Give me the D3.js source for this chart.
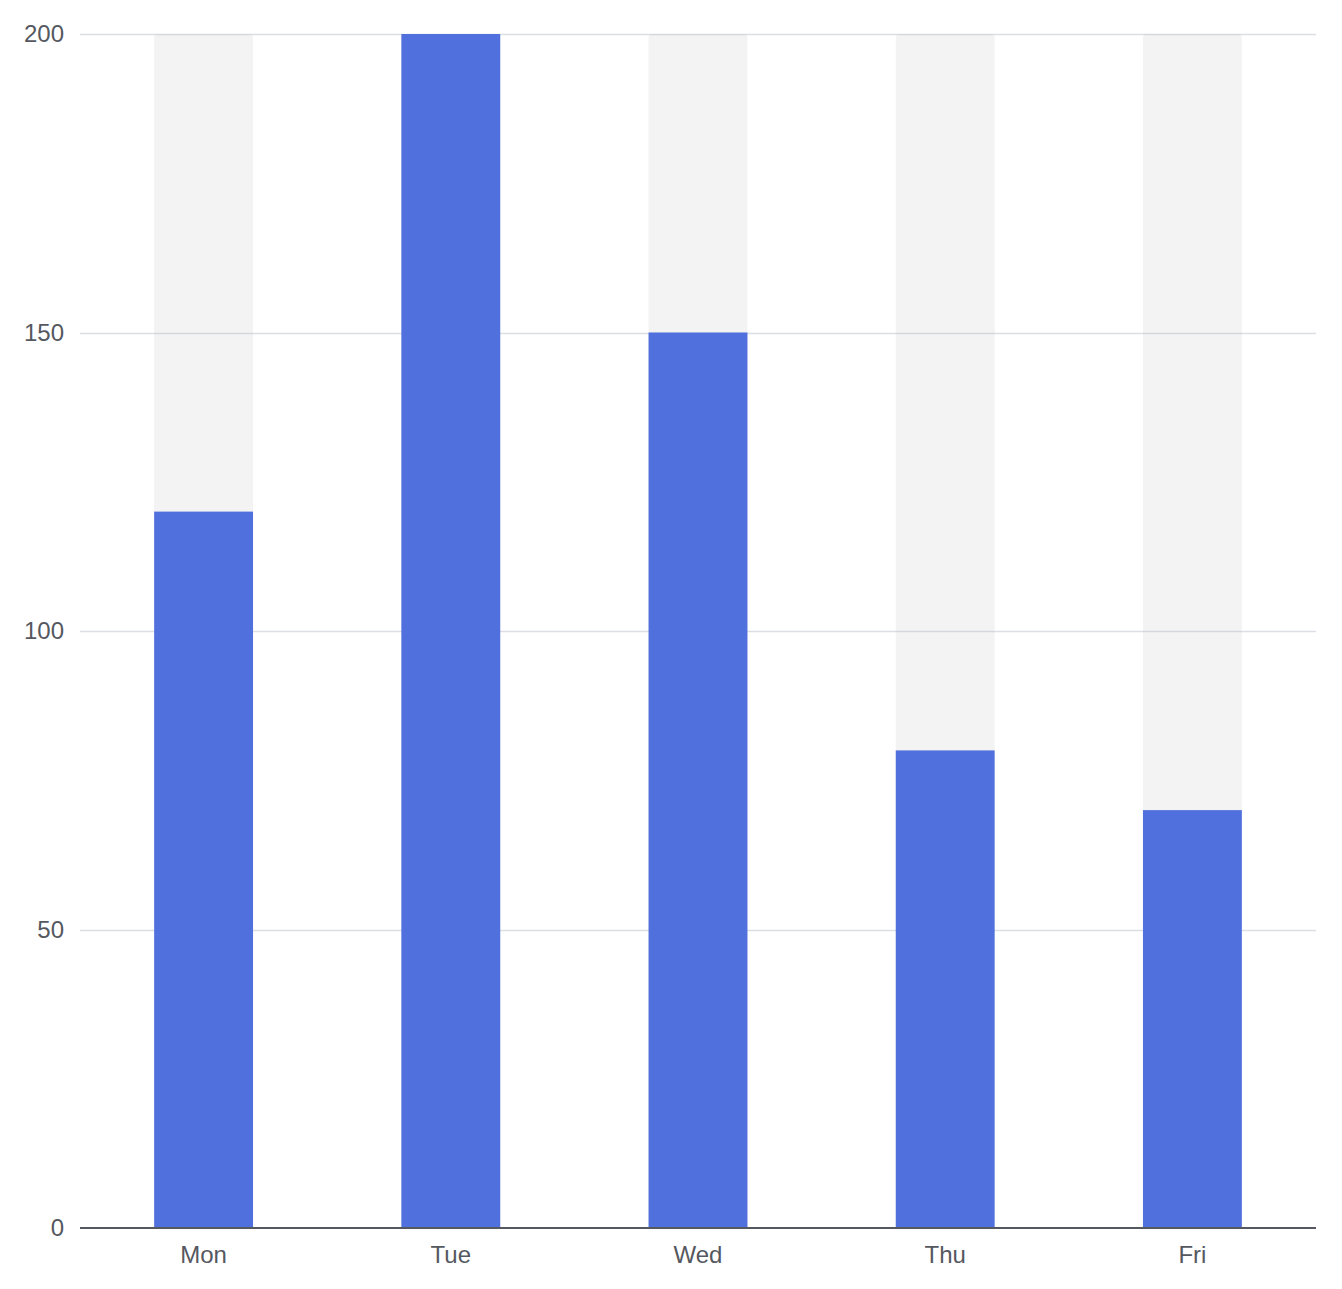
<!DOCTYPE html>
<html><head><meta charset="utf-8">
<script src="https://cdn.jsdelivr.net/npm/d3@7"></script>
<style>html,body{margin:0;padding:0;background:#fff;}svg{display:block;}</style>
</head><body>
<script>
const categories = ["Mon", "Tue", "Wed", "Thu", "Fri"];
const values = [120, 200, 150, 80, 70];
const yTicks = [0, 50, 100, 150, 200];
const yMax = 200;

const W = 1342, H = 1289;
const m = {left: 80, right: 26, top: 34, bottom: 61};
const svg = d3.select("body").append("svg").attr("width", W).attr("height", H);

const x = d3.scaleBand().domain(categories).range([m.left, W - m.right]).paddingInner(0).paddingOuter(0);
const y = d3.scaleLinear().domain([0, yMax]).range([H - m.bottom, m.top]);
const bw = x.bandwidth() * 0.4;

// grid
svg.append("g").selectAll("line").data(yTicks.filter(d => d !== 0)).join("line")
  .attr("x1", m.left).attr("x2", W - m.right)
  .attr("y1", d => Math.round(y(d)) + 0.5).attr("y2", d => Math.round(y(d)) + 0.5)
  .attr("stroke", "#dbdee4").attr("stroke-width", 1.5);

// backgrounds
svg.append("g").selectAll("rect").data(categories).join("rect")
  .attr("x", d => x(d) + (x.bandwidth() - bw) / 2).attr("width", bw)
  .attr("y", y(yMax)).attr("height", y(0) - y(yMax))
  .attr("rx", 4).attr("fill", "rgba(180,180,180,0.16)");

// bars
svg.append("g").selectAll("rect").data(values).join("rect")
  .attr("x", (d, i) => x(categories[i]) + (x.bandwidth() - bw) / 2).attr("width", bw)
  .attr("y", d => y(d)).attr("height", d => y(0) - y(d))
  .attr("fill", "#5070dd");

// y axis labels
const yAxis = d3.axisLeft(y).tickValues(yTicks).tickSize(0).tickPadding(16);
const gy = svg.append("g").attr("transform", `translate(${m.left},0)`).call(yAxis);
gy.select(".domain").remove();
gy.selectAll("text").attr("font-family", "Liberation Sans, Helvetica, Arial, sans-serif")
  .attr("font-size", 24).attr("fill", "#55585f");

// x axis
const xAxis = d3.axisBottom(x).tickSize(0).tickPadding(18);
const gx = svg.append("g").attr("transform", `translate(0,${y(0)})`).call(xAxis);
gx.select(".domain").attr("stroke", "#55585f").attr("stroke-width", 2).attr("d", `M${m.left},0H${W - m.right}`);
gx.selectAll("text").attr("font-family", "Liberation Sans, Helvetica, Arial, sans-serif")
  .attr("font-size", 24).attr("fill", "#55585f");
</script>
</body></html>
